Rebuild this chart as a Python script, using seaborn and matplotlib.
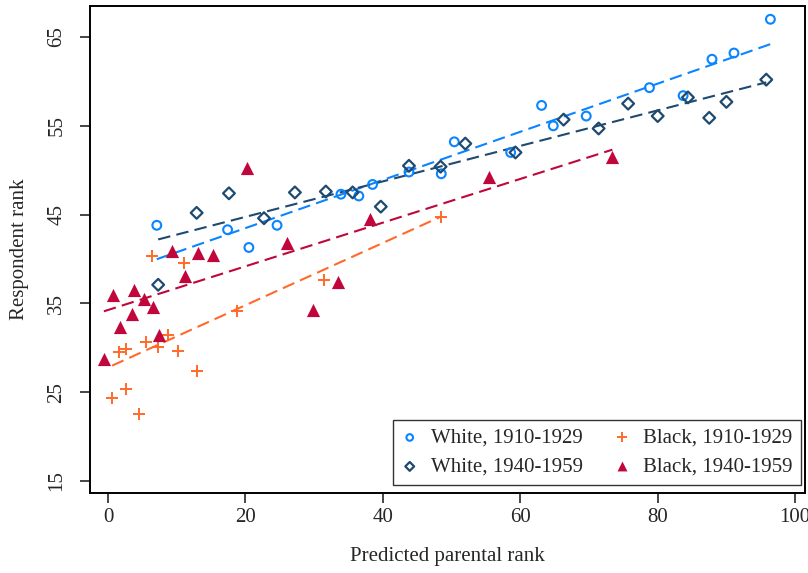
import numpy as np
import pandas as pd
import matplotlib
matplotlib.use("Agg")
import matplotlib.pyplot as plt
import seaborn as sns

# binned means
white_1910_x = [7.1, 17.4, 20.5, 24.6, 33.9, 36.5, 38.5, 43.8, 48.5, 50.4,
                58.6, 63.1, 64.8, 69.6, 78.8, 83.7, 87.9, 91.1, 96.4]
white_1910_y = [43.8, 43.3, 41.3, 43.8, 47.3, 47.1, 48.4, 49.8, 49.6, 53.2,
                52.0, 57.3, 55.0, 56.1, 59.3, 58.4, 62.5, 63.2, 67.0]

white_1940_x = [7.3, 12.9, 17.6, 22.7, 27.2, 31.7, 35.6, 39.7, 43.8, 48.4,
                52.0, 59.3, 66.3, 71.4, 75.7, 80.0, 84.4, 87.5, 90.0, 95.8]
white_1940_y = [37.1, 45.2, 47.4, 44.6, 47.5, 47.6, 47.5, 45.9, 50.5, 50.4,
                53.0, 52.0, 55.7, 54.7, 57.5, 56.1, 58.2, 55.9, 57.7, 60.2]

black_1910_x = [0.6, 1.6, 2.6, 2.6, 4.5, 5.5, 6.4, 7.3, 8.7, 10.2,
                11.1, 12.9, 18.8, 31.4, 48.4]
black_1910_y = [24.4, 29.5, 29.9, 25.4, 22.6, 30.7, 40.3, 30.1, 31.4, 29.6,
                39.5, 27.4, 34.2, 37.6, 44.7]

black_1940_x = [-0.6, 0.7, 1.7, 3.5, 3.8, 5.2, 6.5, 7.4, 9.3, 11.2,
                13.1, 15.3, 20.2, 26.0, 29.8, 33.4, 38.2, 55.4, 73.4]
black_1940_y = [28.7, 36.0, 32.3, 33.8, 36.5, 35.5, 34.6, 31.4, 40.9, 38.1,
                40.7, 40.5, 50.2, 41.8, 34.3, 37.4, 44.5, 49.2, 51.5]

labels = ["White, 1910-1929", "White, 1940-1959", "Black, 1910-1929", "Black, 1940-1959"]
colors = ["#0a84ff", "#1f4a70", "#ff6a2a", "#c0063a"]

x_ticks = [0, 20, 40, 60, 80, 100]
y_ticks = [15, 25, 35, 45, 55, 65]

groups = [
    (white_1910_x, white_1910_y),
    (white_1940_x, white_1940_y),
    (black_1910_x, black_1910_y),
    (black_1940_x, black_1940_y),
]

sns.set_style("white")
plt.rcParams["font.family"] = ["Liberation Serif", "DejaVu Serif"]

fig = plt.figure(figsize=(8.08, 5.73), dpi=100)
ax = fig.add_axes([0.1114, 0.1396, 0.885, 0.850])

marker_kw = [
    dict(marker="o", s=40, facecolors="none", linewidth=1.5),
    dict(marker="D", s=36, facecolors="none", linewidth=1.6),
    dict(marker="+", s=80, linewidth=1.4),
    dict(marker="^", s=90, linewidth=0),
]

for (gx, gy), lab, col, kw in zip(groups, labels, colors, marker_kw):
    df = pd.DataFrame({"x": gx, "y": gy})
    if kw.get("facecolors") == "none":
        sns.scatterplot(data=df, x="x", y="y", ax=ax, edgecolor=col, label=lab,
                        zorder=3, **kw)
    else:
        sns.scatterplot(data=df, x="x", y="y", ax=ax, color=col, label=lab,
                        zorder=3, **kw)
    # linear fit over the group's range
    slope, intercept = np.polyfit(df["x"], df["y"], 1)
    fx = np.array([df["x"].min(), df["x"].max()])
    fit = pd.DataFrame({"x": fx, "y": intercept + slope * fx})
    sns.lineplot(data=fit, x="x", y="y", ax=ax, color=col, linewidth=1.5,
                 dashes=False, linestyle=(0, (6, 3)), zorder=2)

ax.set_xlim(-2.62, 101.45)
ax.set_ylim(13.65, 68.5)
ax.set_xticks(x_ticks)
ax.set_yticks(y_ticks)
ax.tick_params(axis="both", direction="out", length=7, width=1.2, labelsize=15,
               bottom=True, left=True)
ax.tick_params(axis="x", pad=4)
ax.tick_params(axis="y", pad=10)
for lab in ax.get_yticklabels():
    lab.set_rotation(90)
    lab.set_va("center")
for sp in ax.spines.values():
    sp.set_color("black")
    sp.set_linewidth(1.4)

ax.set_xlabel("Predicted parental rank", fontsize=15, labelpad=14)
ax.set_ylabel("Respondent rank", fontsize=15, labelpad=13)

leg = ax.legend(ncol=2, loc="lower right", fontsize=15, frameon=True,
                fancybox=False, edgecolor="black", markerscale=0.75,
                handletextpad=0.6, columnspacing=1.5, borderpad=0.4,
                handlelength=0.8, labelspacing=0.45,
                bbox_to_anchor=(0.994, 0.016), borderaxespad=0)
leg.get_frame().set_linewidth(1.0)

fig.savefig("out.png", dpi=100, facecolor="white")
